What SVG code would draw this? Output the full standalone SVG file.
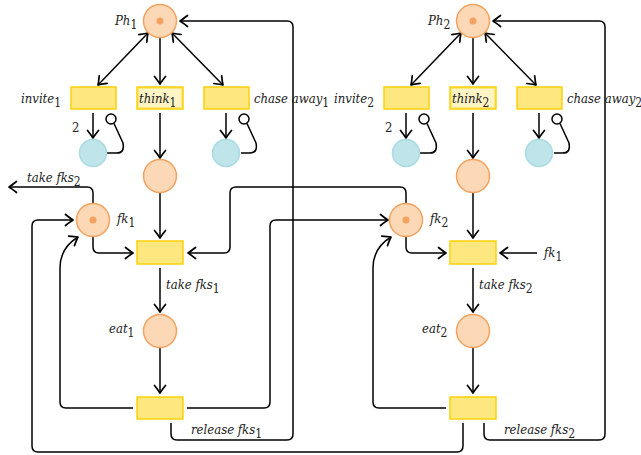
<svg xmlns="http://www.w3.org/2000/svg" width="641" height="455" viewBox="0 0 641 455">
<defs>
<marker id="ah" viewBox="-9 -7 11 14" markerWidth="11" markerHeight="14" refX="0" refY="0" orient="auto-start-reverse" markerUnits="userSpaceOnUse">
<path d="M -7.5 -5.5 Q -2.5 -1.5 0 0 Q -2.5 1.5 -7.5 5.5" fill="none" stroke="#000" stroke-width="1.7" stroke-linecap="round" stroke-linejoin="round"/>
</marker>
<style>
.pl{fill:#fdd8b6;stroke:#f3a35f;stroke-width:1.5}
.tk{fill:#f3a35f}
.tr{fill:#ffe780;stroke:#fcd20a;stroke-width:1.5}
.bl{fill:#bfe4e9;stroke:#a8dbe2;stroke-width:1.5}
.hi{fill:#fff4c4}
.ar{fill:none;stroke:#000;stroke-width:1.5;marker-end:url(#ah)}
.dar{fill:none;stroke:#000;stroke-width:1.5;marker-end:url(#ah);marker-start:url(#ah)}
.ln{fill:none;stroke:#000;stroke-width:1.5}
.oc{fill:#fff;stroke:#000;stroke-width:1.5}
.lb{font-style:italic;font-size:13px;fill:#222}
.sub{font-size:12px;font-style:normal}
.num{font-style:normal;font-size:13px;fill:#222}
</style>
</defs>

<g id="connectors">
<path class="dar" d="M 148 33 L 98 85"/>
<path class="ar" d="M 160 38 L 160 84"/>
<path class="dar" d="M 172 33 L 223 85"/>
<path class="ar" d="M 93 113 L 93 138"/>
<path class="ln" d="M 114 123.5 L 123 143 Q 125 153 117 153 L 107 153"/>
<path class="ar" d="M 226 113 L 226 138"/>
<path class="ln" d="M 247 123.5 L 256 143 Q 258 153 250 153 L 241 153"/>
<path class="ar" d="M 160 113 L 160 158"/>
<path class="ar" d="M 160 193 L 160 238"/>
<path class="ar" d="M 93 203 L 93 193 Q 93 187 87 187 L 9 187"/>
<path class="ar" d="M 93 237 L 93 247 Q 93 253 99 253 L 133 253"/>
<path class="ar" d="M 406 203 L 406 193 Q 406 187 400 187 L 236 187 Q 230 187 230 193 L 230 247 Q 230 253 224 253 L 188 253"/>
<path class="ar" d="M 160 268 L 160 312"/>
<path class="ar" d="M 160 348 L 160 393"/>
<path class="ar" d="M 133 408 L 66 408 Q 60 408 60 402 L 60 268 Q 60 248 78 237"/>
<path class="ar" d="M 187 408 L 264 408 Q 270 408 270 402 L 270 226 Q 270 220 276 220 L 388 220"/>
<path class="ar" d="M 171 423 L 171 434 Q 171 440 177 440 L 287 440 Q 293 440 293 434 L 293 27 Q 293 21 287 21 L 180 21"/>
<path class="ar" d="M 463 423 L 463 446 Q 463 452 457 452 L 38 452 Q 32 452 32 446 L 32 226 Q 32 220 38 220 L 73 220"/>
<path class="dar" d="M 461 33 L 411 85"/>
<path class="ar" d="M 473 38 L 473 84"/>
<path class="dar" d="M 485 33 L 536 85"/>
<path class="ar" d="M 406 113 L 406 138"/>
<path class="ln" d="M 427 123.5 L 436 143 Q 438 153 430 153 L 420 153"/>
<path class="ar" d="M 539 113 L 539 138"/>
<path class="ln" d="M 560 123.5 L 569 143 Q 571 153 563 153 L 554 153"/>
<path class="ar" d="M 473 113 L 473 158"/>
<path class="ar" d="M 473 193 L 473 238"/>
<path class="ar" d="M 406 237 L 406 247 Q 406 253 412 253 L 446 253"/>
<path class="ar" d="M 537 253 L 500 253"/>
<path class="ar" d="M 473 268 L 473 312"/>
<path class="ar" d="M 473 348 L 473 393"/>
<path class="ar" d="M 446 408 L 379 408 Q 373 408 373 402 L 373 268 Q 373 248 391 237"/>
<path class="ar" d="M 484 423 L 484 434 Q 484 440 490 440 L 599 440 Q 605 440 605 434 L 605 27 Q 605 21 599 21 L 493 21"/>
</g>

<g font-family="'DejaVu Serif Condensed', 'DejaVu Serif', serif">
<g id="Ph1"><circle class="pl" cx="160" cy="21" r="16.5"/><circle class="tk" cx="160" cy="21" r="3.5"/><text class="lb" x="115" y="25">Ph<tspan class="sub" dy="4">1</tspan></text></g>
<g id="invite1"><rect class="tr" x="71" y="87" width="45" height="22"/><text class="lb" x="21" y="103">invite<tspan class="sub" dy="4">1</tspan></text></g>
<g id="think1"><rect class="tr" x="137" y="87" width="46" height="22"/><rect class="hi" x="139" y="89" width="42" height="18"/><text class="lb" x="139" y="103">think<tspan class="sub" dy="4">1</tspan></text></g>
<g id="chase1"><rect class="tr" x="204" y="87" width="45" height="22"/><text class="lb" x="254" y="103">chase away<tspan class="sub" dy="4">1</tspan></text></g>
<g id="inv1p"><circle class="bl" cx="93" cy="153" r="13.5"/><text class="num" x="72" y="132">2</text><circle class="oc" cx="111" cy="119" r="5"/></g>
<g id="ch1p"><circle class="bl" cx="226" cy="153" r="13.5"/><circle class="oc" cx="244" cy="119" r="5"/></g>
<g id="hungry1"><circle class="pl" cx="160" cy="176" r="16.5"/></g>
<g id="fk1"><circle class="pl" cx="93" cy="220" r="16.5"/><circle class="tk" cx="93" cy="220" r="3.5"/><text class="lb" x="117" y="223">fk<tspan class="sub" dy="4">1</tspan></text></g>
<g id="takefks1"><rect class="tr" x="137" y="241" width="46" height="23"/><text class="lb" x="166" y="289">take fks<tspan class="sub" dy="4">1</tspan></text></g>
<g id="eat1"><circle class="pl" cx="160" cy="331" r="16.5"/><text class="lb" x="109" y="333">eat<tspan class="sub" dy="4">1</tspan></text></g>
<g id="release1"><rect class="tr" x="137" y="397" width="46" height="22"/><text class="lb" x="191" y="434">release fks<tspan class="sub" dy="4">1</tspan></text></g>
<g id="takefks2out"><text class="lb" x="27" y="182">take fks<tspan class="sub" dy="4">2</tspan></text></g>

<g id="Ph2"><circle class="pl" cx="473" cy="21" r="16.5"/><circle class="tk" cx="473" cy="21" r="3.5"/><text class="lb" x="428" y="25">Ph<tspan class="sub" dy="4">2</tspan></text></g>
<g id="invite2"><rect class="tr" x="384" y="87" width="45" height="22"/><text class="lb" x="334" y="103">invite<tspan class="sub" dy="4">2</tspan></text></g>
<g id="think2"><rect class="tr" x="450" y="87" width="46" height="22"/><rect class="hi" x="452" y="89" width="42" height="18"/><text class="lb" x="452" y="103">think<tspan class="sub" dy="4">2</tspan></text></g>
<g id="chase2"><rect class="tr" x="517" y="87" width="45" height="22"/><text class="lb" x="567" y="103">chase away<tspan class="sub" dy="4">2</tspan></text></g>
<g id="inv2p"><circle class="bl" cx="406" cy="153" r="13.5"/><text class="num" x="385" y="132">2</text><circle class="oc" cx="424" cy="119" r="5"/></g>
<g id="ch2p"><circle class="bl" cx="539" cy="153" r="13.5"/><circle class="oc" cx="557" cy="119" r="5"/></g>
<g id="hungry2"><circle class="pl" cx="473" cy="176" r="16.5"/></g>
<g id="fk2"><circle class="pl" cx="406" cy="220" r="16.5"/><circle class="tk" cx="406" cy="220" r="3.5"/><text class="lb" x="430" y="223">fk<tspan class="sub" dy="4">2</tspan></text></g>
<g id="takefks2"><rect class="tr" x="450" y="241" width="46" height="23"/><text class="lb" x="479" y="289">take fks<tspan class="sub" dy="4">2</tspan></text></g>
<g id="fk1in"><text class="lb" x="544" y="257">fk<tspan class="sub" dy="4">1</tspan></text></g>
<g id="eat2"><circle class="pl" cx="473" cy="331" r="16.5"/><text class="lb" x="422" y="333">eat<tspan class="sub" dy="4">2</tspan></text></g>
<g id="release2"><rect class="tr" x="450" y="397" width="46" height="22"/><text class="lb" x="504" y="434">release fks<tspan class="sub" dy="4">2</tspan></text></g>
</g>
</svg>
